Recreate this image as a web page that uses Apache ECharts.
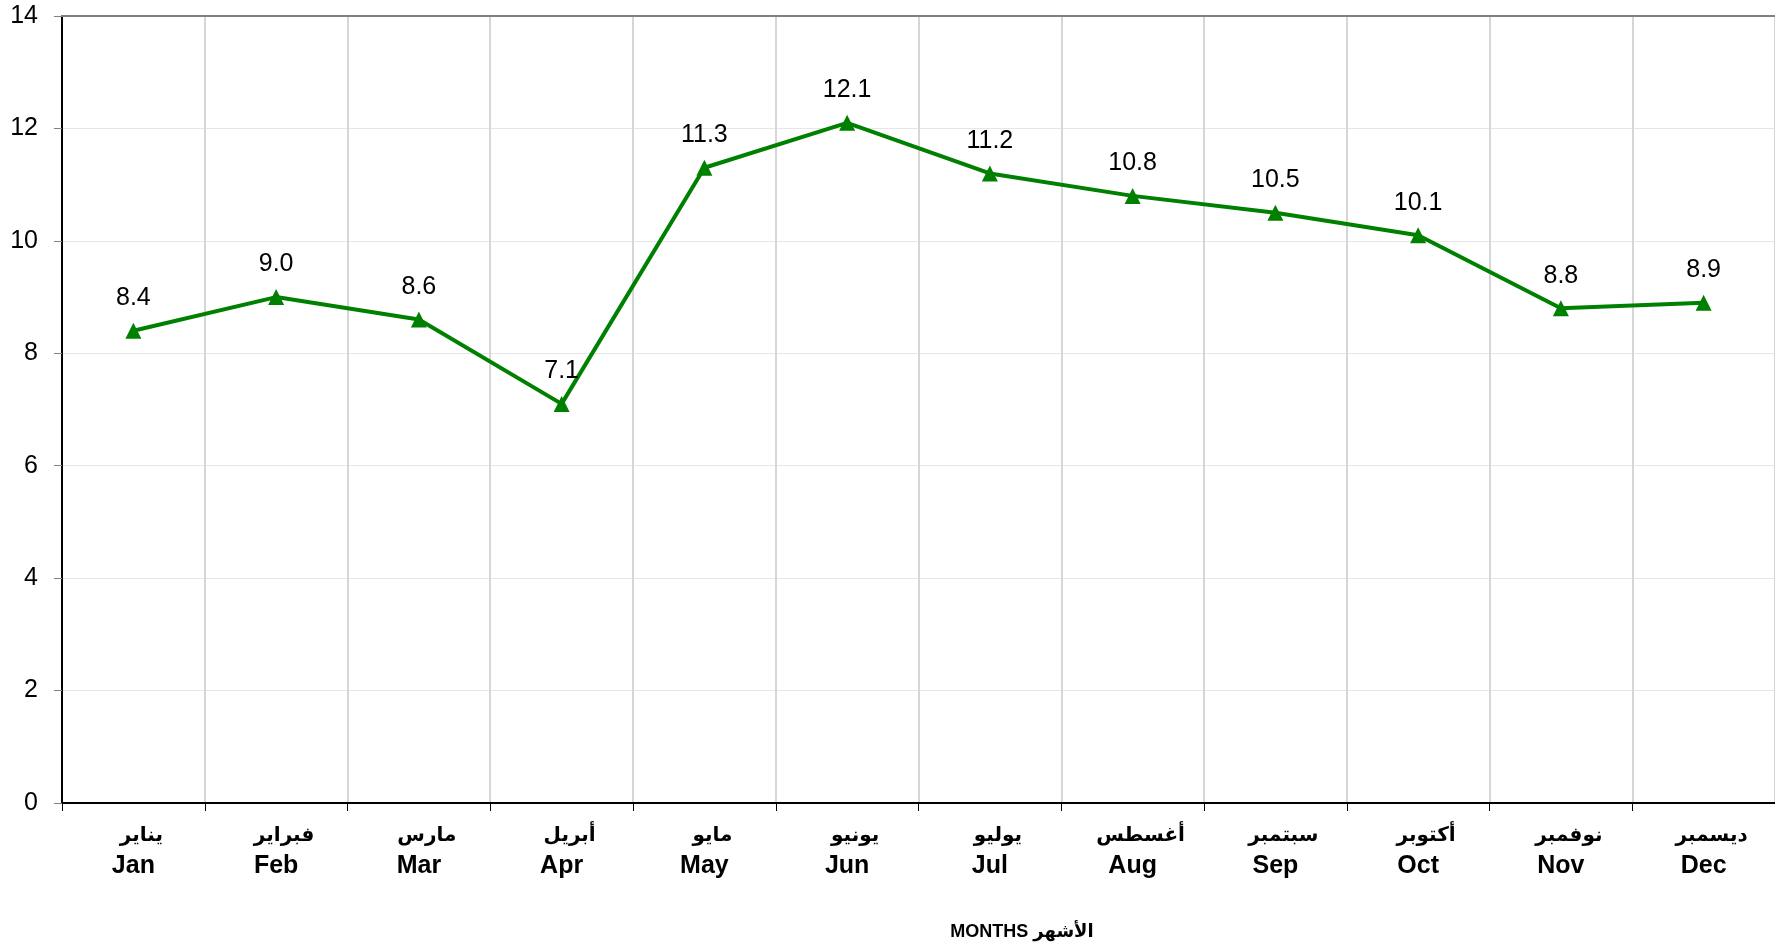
<!DOCTYPE html>
<html>
<head>
<meta charset="utf-8">
<script src="https://cdn.jsdelivr.net/npm/echarts@6/dist/echarts.min.js"></script>
<style>
  html, body { margin: 0; padding: 0; background: #fff; }
  #chart { width: 1775px; height: 947px; }
</style>
</head>
<body>
<div id="chart"></div>
<script>
const monthsAr = ['يناير', 'فبراير', 'مارس', 'أبريل', 'مايو', 'يونيو', 'يوليو', 'أغسطس', 'سبتمبر', 'أكتوبر', 'نوفمبر', 'ديسمبر']
const monthsEn = ['Jan', 'Feb', 'Mar', 'Apr', 'May', 'Jun', 'Jul', 'Aug', 'Sep', 'Oct', 'Nov', 'Dec']
const values = [8.4, 9.0, 8.6, 7.1, 11.3, 12.1, 11.2, 10.8, 10.5, 10.1, 8.8, 8.9]
const yTicks = { min: 0, max: 14, interval: 2 }
// canvas draws left-to-right, so the English word goes first to match the RTL layout
const axisTitle = 'MONTHS الأشهر'

const chart = echarts.init(document.getElementById('chart'))

const font = '"Liberation Sans", Arial, "DejaVu Sans", sans-serif'

chart.setOption({
  backgroundColor: '#fff',
  animation: false,
  textStyle: { fontFamily: font },
  title: {
    text: axisTitle,
    left: 1017,
    top: 918,
    textAlign: 'center',
    textStyle: { fontSize: 18, fontWeight: 'bold', color: '#000', fontFamily: font },
  },
  grid: { left: 62, top: 16, right: 0, bottom: 144, containLabel: false },
  xAxis: [
    {
      type: 'category',
      data: monthsEn,
      boundaryGap: true,
      axisLine: { lineStyle: { color: '#000', width: 2 } },
      axisTick: { show: true, length: 8, lineStyle: { color: '#000', width: 1 } },
      splitLine: { show: true, lineStyle: { color: '#d6d6d6', width: 2 } },
      axisLabel: {
        margin: 17,
        interval: 0,
        formatter: (v, i) => '{ar|' + monthsAr[i] + '}\n{en|' + monthsEn[i] + '}',
        rich: {
          ar: { fontSize: 20, fontWeight: 'bold', color: '#000', lineHeight: 31, padding: [0, 0, 0, 16], fontFamily: '"DejaVu Sans", sans-serif' },
          en: { fontSize: 25, fontWeight: 'bold', color: '#000', lineHeight: 31, fontFamily: font },
        },
      },
    },
    {
      type: 'category',
      position: 'top',
      data: monthsEn,
      axisLine: { show: true, lineStyle: { color: '#808080', width: 2 } },
      axisTick: { show: false },
      axisLabel: { show: false },
      splitLine: { show: false },
    },
  ],
  yAxis: {
    type: 'value',
    min: yTicks.min,
    max: yTicks.max,
    interval: yTicks.interval,
    axisLine: { show: true, lineStyle: { color: '#000', width: 2 } },
    axisTick: { show: true, length: 8, lineStyle: { color: '#808080', width: 1 } },
    splitLine: { show: true, lineStyle: { color: '#e6e6e6', width: 1 } },
    axisLabel: { fontSize: 25, color: '#000', margin: 24, fontFamily: font },
  },
  series: [
    {
      type: 'line',
      data: values,
      xAxisIndex: 0,
      symbol: 'triangle',
      symbolSize: 16,
      lineStyle: { color: '#008000', width: 4 },
      itemStyle: { color: '#008000' },
      label: {
        show: true,
        position: 'top',
        distance: 12,
        fontSize: 25,
        color: '#000',
        fontFamily: font,
        formatter: p => p.value.toFixed(1),
      },
    },
  ],
})
</script>
</body>
</html>
